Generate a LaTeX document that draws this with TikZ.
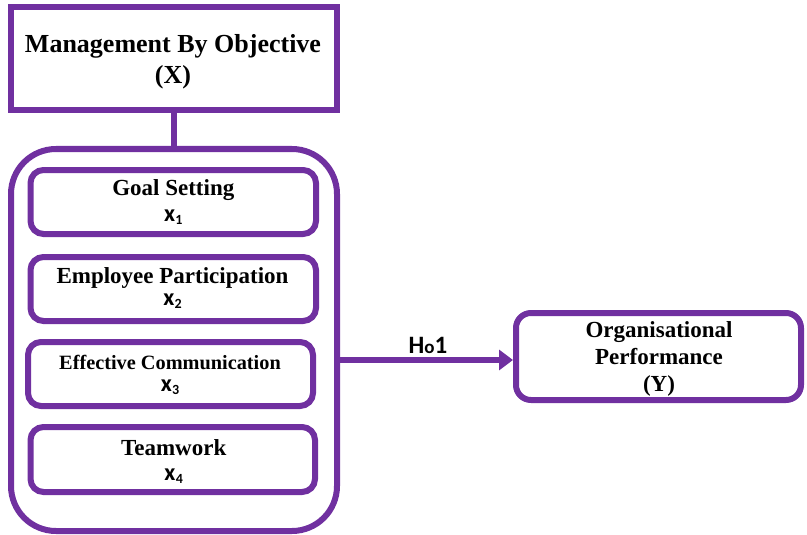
\documentclass[tikz,border=0pt]{standalone}
\usepackage{fontspec}
\setmainfont{Liberation Serif}
\newfontfamily\calfont{Carlito}
\usetikzlibrary{arrows.meta}
\definecolor{mbopurple}{HTML}{7030A0}
\newcommand{\sfx}[1]{{\calfont\bfseries\fontsize{24}{24}\selectfont x\kern0.3pt\raisebox{-3.5pt}{\fontsize{14}{14}\selectfont #1}}}
\begin{document}
\begin{tikzpicture}[x=1pt,y=-1pt,
  purp/.style={draw=mbopurple, line width=6pt, inner sep=0pt},
  sqbox/.style={purp, rectangle},
  rbox/.style={purp, rectangle, rounded corners=13pt},
  txt/.style={anchor=base, inner sep=0pt, font=\bfseries\fontsize{23}{23}\selectfont},
  bigtxt/.style={txt, font=\bfseries\fontsize{26}{26}\selectfont},
  smtxt/.style={txt, font=\bfseries\fontsize{20.3}{20.3}\selectfont},
  subtxt/.style={anchor=base, inner sep=0pt},
  link/.style={draw=mbopurple, line width=6pt},
  arr/.style={draw=mbopurple, line width=6pt, -{Triangle[length=14pt,width=20pt]}}
]
\useasboundingbox (0,0) rectangle (807,535);
% boxes
\node[sqbox, minimum width=326pt, minimum height=103pt] (mbo) at (174,58.5) {};
\node[purp, rectangle, rounded corners=45pt, minimum width=326pt, minimum height=382pt] (grp) at (174,340) {};
\node[rbox, minimum width=285.5pt, minimum height=64pt] (g1) at (173.25,202) {};
\node[rbox, minimum width=285.5pt, minimum height=64pt] (g2) at (173.25,289) {};
\node[rbox, minimum width=285pt, minimum height=64pt] (g3) at (170.5,374) {};
\node[rbox, minimum width=284.5pt, minimum height=65pt] (g4) at (172.75,459.5) {};
\node[rbox, rounded corners=15pt, minimum width=285pt, minimum height=87pt] (op) at (658.5,356.5) {};
% texts
\node[bigtxt] (mbo1) at (173,53) {Management By Objective};
\node[bigtxt] (mbo2) at (173,84) {(X)};
\node[txt] (t1) at (173.3,195) {Goal Setting};
\node[subtxt] (s1) at (173.3,221) {\sfx{1}};
\node[txt] (t2) at (172.5,283) {Employee Participation};
\node[subtxt] (s2) at (172.5,305) {\sfx{2}};
\node[smtxt] (t3) at (170,369) {Effective Communication};
\node[subtxt] (s3) at (170,391) {\sfx{3}};
\node[txt] (t4) at (173.7,455) {Teamwork};
\node[subtxt] (s4) at (173.7,480) {\sfx{4}};
\node[txt] (o1) at (659,337) {Organisational};
\node[txt] (o2) at (659,364) {Performance};
\node[txt] (o3) at (659,391) {(Y)};
\node[anchor=base, inner sep=0pt, font=\calfont\bfseries\fontsize{25}{25}\selectfont] (h) at (428,353) {H{\fontsize{19}{19}\selectfont o}1};
% connectors
\draw[link] (mbo.south) -- (grp.north);
\draw[arr] ([yshift=-3.5pt]op.west -| grp.east) -- ([yshift=-3.5pt]op.west);
\end{tikzpicture}
\end{document}
